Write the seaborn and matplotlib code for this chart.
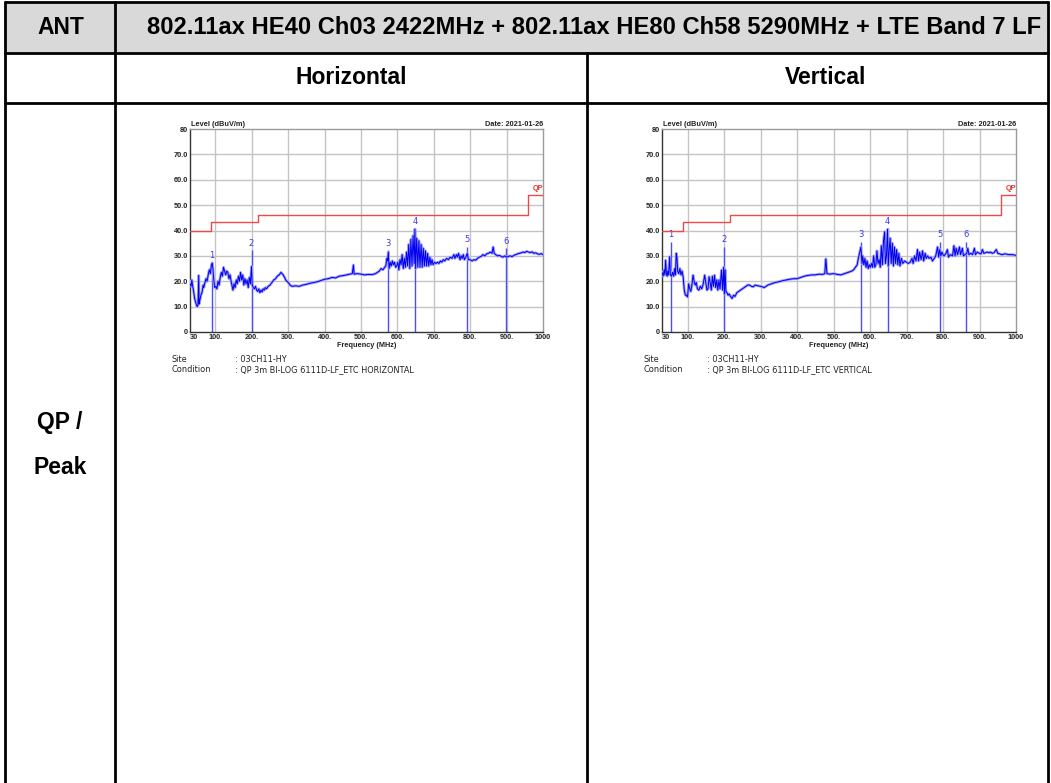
import matplotlib
matplotlib.use("Agg")
import matplotlib.pyplot as plt
import seaborn as sns
import pandas as pd
from matplotlib.lines import Line2D

sns.set_theme(style="white")
plt.rcParams['font.family'] = ['Liberation Sans', 'DejaVu Sans']

# ---------------- data ----------------
header_ant = "ANT"
header_title = "802.11ax HE40 Ch03 2422MHz + 802.11ax HE80 Ch58 5290MHz + LTE Band 7 LF"
col_titles = ["Horizontal", "Vertical"]
row_title = ["QP /", "Peak"]

x_ticks = [30, 100, 200, 300, 400, 500, 600, 700, 800, 900, 1000]
x_ticklabels = ["30", "100.", "200.", "300.", "400.", "500.", "600.", "700.", "800.", "900.", "1000"]
y_ticks = [0, 10, 20, 30, 40, 50, 60, 70, 80]
y_ticklabels = ["0", "10.0", "20.0", "30.0", "40.0", "50.0", "60.0", "70.0", "80"]

limit_freq = [30, 88, 216, 960, 1000]
limit_level = [40, 43.5, 46, 54, 54]

h_freq = [30, 33, 35, 37, 40, 43, 46, 48, 50, 52, 54, 55, 57, 60, 63, 66, 68, 71, 74, 77,
          80, 83, 86, 89, 91, 93, 95, 98, 101, 104, 107, 110, 113, 116, 119, 122, 125, 128, 131, 134,
          137, 140, 143, 146, 148, 151, 154, 157, 160, 163, 166, 169, 172, 175, 178, 181, 184, 187, 190, 193,
          196, 199, 201, 204, 207, 210, 213, 216, 219, 222, 225, 228, 231, 234, 237, 240, 245, 250, 255, 260,
          265, 270, 275, 280, 283, 286, 290, 293, 296, 300, 305, 310, 320, 330, 340, 350, 360, 370, 380, 390,
          400, 410, 420, 430, 440, 450, 460, 470, 476, 479, 481, 490, 500, 510, 520, 530, 540, 545, 550, 555,
          560, 565, 568, 571, 573, 575, 577, 580, 583, 586, 589, 592, 595, 598, 601, 604, 607, 610, 613, 616,
          619, 622, 625, 628, 631, 634, 637, 640, 643, 646, 648, 650, 653, 656, 659, 662, 665, 668, 671, 674,
          677, 680, 683, 686, 689, 692, 695, 698, 702, 706, 710, 714, 718, 722, 726, 730, 735, 740, 745, 750,
          755, 758, 762, 765, 768, 772, 775, 778, 781, 784, 788, 792, 795, 800, 805, 810, 815, 820, 825, 830,
          835, 840, 845, 850, 855, 860, 863, 866, 870, 875, 880, 885, 890, 895, 900, 905, 910, 915, 920, 925,
          930, 935, 940, 945, 950, 955, 960, 965, 970, 975, 980, 985, 990, 995, 1000]
h_level = [19.0, 18.0, 20.5, 18.5, 16.0, 13.0, 11.5, 10.5, 10.0, 10.8, 22.3, 11.0, 12.5, 14.5, 15.5, 18.5, 17.5, 19.5, 21.0, 20.0,
           22.5, 24.5, 23.0, 26.5, 27.2, 25.0, 21.0, 17.5, 18.0, 17.0, 20.0, 18.5, 21.5, 23.5, 22.0, 25.5, 24.0, 22.5, 24.0, 23.5,
           21.0, 22.5, 20.0, 18.0, 16.5, 19.0, 17.5, 20.5, 19.0, 22.0, 20.0, 23.5, 20.5, 22.5, 18.5, 21.0, 19.0, 20.5, 17.5, 21.5,
           19.0, 25.8, 18.5, 17.5, 17.0, 18.0, 16.5, 16.0, 17.0, 15.5, 16.5, 15.8, 17.0, 16.5, 17.5, 17.0, 18.0, 18.5, 19.5, 20.5,
           21.0, 22.0, 22.5, 23.5, 23.0, 22.5, 21.5, 20.5, 20.0, 19.5, 18.5, 18.0, 18.2, 18.0, 18.5, 18.8, 19.2, 19.5, 19.8, 20.3,
           20.8, 21.0, 21.5, 21.3, 22.0, 22.2, 22.5, 22.8, 23.0, 26.4, 22.8, 23.0, 22.8, 22.5, 22.7, 22.6, 23.0, 23.5, 24.0, 25.0,
           24.5, 25.5, 26.0, 29.0, 28.0, 31.5, 25.0, 27.5, 26.0, 28.0, 26.5, 27.5, 25.5, 26.0, 27.5, 24.5, 28.5, 26.5, 30.5, 25.0,
           29.0, 25.5, 31.5, 26.0, 34.5, 25.0, 36.5, 26.0, 38.0, 27.0, 40.5, 25.0, 37.0, 25.5, 36.0, 25.5, 34.5, 25.5, 33.0, 26.0,
           32.0, 26.0, 31.0, 26.0, 29.5, 26.5, 28.5, 26.5, 27.5, 27.0, 27.5, 27.0, 28.0, 27.5, 28.5, 28.0, 29.0, 28.5, 29.5, 29.0,
           30.5, 29.0, 30.5, 29.5, 31.0, 28.5, 30.0, 29.0, 30.5, 28.5, 29.5, 31.0, 28.5, 28.5, 28.0, 28.5, 28.3, 29.0, 29.5, 29.8,
           30.5, 30.0, 30.8, 31.0, 31.5, 31.0, 33.5, 31.0, 30.5, 30.0, 30.2, 29.8, 29.5, 30.0, 29.5, 29.8, 30.0, 29.7, 30.2, 30.5,
           30.8, 31.0, 31.2, 31.5, 31.3, 31.8, 31.5, 31.3, 31.6, 31.0, 31.2, 30.8, 30.6, 30.9, 30.5]

v_freq = [30, 33, 36, 38, 40, 42, 44, 46, 48, 51, 53, 56, 59, 62, 65, 67, 69, 71, 73, 76,
          79, 82, 85, 88, 91, 94, 97, 100, 103, 106, 109, 112, 115, 118, 121, 124, 127, 131, 135, 139,
          143, 147, 150, 153, 156, 159, 162, 165, 168, 171, 174, 177, 180, 183, 186, 189, 193, 196, 199, 201,
          203, 205, 208, 211, 214, 218, 222, 226, 230, 235, 240, 245, 250, 255, 260, 265, 270, 275, 280, 285,
          290, 300, 305, 310, 315, 320, 330, 340, 350, 360, 370, 380, 390, 400, 410, 420, 430, 440, 450, 460,
          470, 476, 479, 482, 490, 500, 510, 520, 530, 540, 550, 555, 560, 565, 568, 571, 575, 578, 580, 583,
          586, 589, 592, 595, 598, 601, 604, 607, 610, 613, 616, 619, 622, 625, 628, 631, 634, 637, 640, 642,
          645, 648, 650, 652, 655, 658, 661, 664, 667, 670, 673, 676, 679, 682, 686, 690, 695, 700, 705, 710,
          715, 718, 722, 726, 730, 733, 736, 740, 744, 747, 751, 754, 758, 762, 767, 771, 776, 780, 785, 788,
          791, 794, 797, 800, 803, 808, 812, 815, 820, 826, 830, 833, 836, 840, 845, 848, 853, 856, 860, 865,
          868, 871, 876, 881, 886, 889, 894, 899, 904, 908, 912, 917, 921, 926, 930, 935, 940, 946, 950, 955,
          962, 970, 980, 990, 1000]
v_level = [23.5, 22.0, 24.5, 22.5, 28.3, 23.0, 22.0, 24.0, 22.5, 29.7, 22.5, 22.0, 23.5, 22.0, 25.0, 22.5, 31.0, 29.5, 24.0, 23.0,
           25.0, 22.5, 24.0, 21.7, 16.5, 14.5, 14.5, 13.8, 19.0, 17.0, 16.0, 18.5, 22.4, 20.0, 18.5, 19.5, 17.0, 16.5, 18.0, 17.0,
           19.0, 22.4, 19.5, 16.5, 17.0, 21.8, 19.5, 16.5, 22.0, 18.0, 22.4, 17.5, 20.5, 16.5, 20.5, 17.0, 24.4, 16.5, 25.5, 15.0,
           24.5, 16.0, 15.5, 14.5, 15.0, 14.0, 13.2, 14.5, 14.0, 15.5, 16.0, 16.5, 17.0, 17.5, 18.0, 18.5, 18.5, 18.0, 17.8, 18.5,
           18.3, 18.0, 17.8, 17.5, 18.0, 18.5, 19.0, 19.5, 19.8, 20.2, 20.5, 20.8, 21.0, 21.0, 21.5, 22.0, 22.3, 22.5, 22.5, 22.8,
           22.7, 23.0, 28.8, 23.0, 22.8, 23.0, 22.7, 22.5, 23.0, 23.5, 24.0, 24.5, 25.5, 26.5, 29.0, 31.0, 33.5, 27.0, 30.0, 26.5,
           29.0, 25.5, 28.0, 25.0, 26.5, 25.5, 27.0, 25.5, 30.0, 25.5, 26.5, 32.0, 27.0, 28.5, 25.5, 34.0, 26.5, 36.0, 39.5, 27.0,
           30.0, 40.5, 26.0, 31.0, 37.0, 27.0, 35.0, 26.0, 33.5, 27.0, 32.5, 26.5, 31.0, 26.0, 29.0, 27.0, 28.0, 27.5, 27.0, 27.5,
           29.0, 27.0, 30.0, 28.0, 32.5, 28.0, 31.5, 28.5, 32.0, 28.0, 31.0, 29.0, 30.0, 29.0, 29.5, 28.0, 29.0, 30.0, 33.5, 29.5,
           32.5, 30.0, 31.5, 30.5, 30.0, 31.0, 32.5, 29.5, 30.5, 30.0, 34.0, 30.0, 33.0, 30.5, 33.5, 30.5, 33.0, 30.0, 30.5, 31.0,
           33.0, 30.5, 31.0, 30.5, 33.0, 30.5, 31.5, 31.0, 30.8, 32.5, 31.0, 31.3, 31.5, 31.2, 31.5, 31.0, 31.3, 32.5, 31.0, 30.8,
           30.5, 30.8, 30.5, 30.5, 30.2]

h_marker_freq = [91, 199, 575, 648, 791, 899]
h_marker_level = [27.5, 32.3, 32.3, 40.8, 33.6, 33.0]
v_marker_freq = [55, 200, 575.5, 648, 791.5, 863.5]
v_marker_level = [35.6, 33.6, 35.6, 40.8, 35.6, 35.6]
marker_ids = ["1", "2", "3", "4", "5", "6"]

site_text = ": 03CH11-HY"
cond_texts = [": QP 3m BI-LOG 6111D-LF_ETC HORIZONTAL", ": QP 3m BI-LOG 6111D-LF_ETC VERTICAL"]
date_text = "Date: 2021-01-26"

# ---------------- figure ----------------
W, H = 1051, 783
fig = plt.figure(figsize=(W / 100, H / 100), dpi=100)
fig.patch.set_facecolor("white")

# table background axes in pixel coordinates
bg = fig.add_axes([0, 0, 1, 1])
bg.set_xlim(0, W)
bg.set_ylim(H, 0)
bg.axis("off")

x_left, x_c1, x_c2, x_right = 5, 115, 587, 1048
y_top, y_r1, y_r2, y_bot = 2, 53, 103, 783
bg.fill_between([x_left, x_right], y_top, y_r1, color="#D9D9D9", zorder=0)
lw = 2.0
for y in (y_top, y_r1, y_r2):
    bg.add_line(Line2D([x_left, x_right], [y, y], color="black", lw=lw))
bg.add_line(Line2D([x_left, x_left], [y_top, y_bot], color="black", lw=lw))
bg.add_line(Line2D([x_right, x_right], [y_top, y_bot], color="black", lw=lw))
bg.add_line(Line2D([x_c1, x_c1], [y_top, y_bot], color="black", lw=lw))
bg.add_line(Line2D([x_c2, x_c2], [y_r1, y_bot], color="black", lw=lw))

tkw = dict(fontweight="bold", fontsize=16.5, color="black", ha="center", va="center")
bg.text((x_left + x_c1) / 2 + 1, 28, header_ant, **tkw)
bg.text((x_c1 + x_right) / 2 + 13, 28, header_title, **{**tkw, "fontsize": 17.1})
bg.text((x_c1 + x_c2) / 2, 78, col_titles[0], **tkw)
bg.text((x_c2 + x_right) / 2 + 8, 78, col_titles[1], **tkw)
bg.text(60, 422, row_title[0], **tkw)
bg.text(60, 468, row_title[1], **tkw)


def emi_panel(px_left, px_right, freq, level, mk_f, mk_l, cond):
    top, bottom = 129, 332
    ax = fig.add_axes([px_left / W, 1 - bottom / H, (px_right - px_left) / W, (bottom - top) / H])
    ax.set_facecolor("white")
    df = pd.DataFrame({"Frequency (MHz)": freq, "Level": level})
    lim = pd.DataFrame({"f": limit_freq, "l": limit_level})
    ax.set_xlim(30, 1000)
    ax.set_ylim(0, 80)
    ax.set_xticks(x_ticks)
    ax.set_xticklabels(x_ticklabels)
    ax.set_yticks(y_ticks)
    ax.set_yticklabels(y_ticklabels)
    for v in x_ticks[1:-1]:
        ax.axvline(v, color="#C4C4C4", lw=1.0, zorder=0)
    for v in y_ticks[1:-1]:
        ax.axhline(v, color="#C4C4C4", lw=1.0, zorder=0)
    ax.tick_params(length=0, pad=1.5, labelsize=5.3, colors="#222222")
    for t in ax.get_xticklabels() + ax.get_yticklabels():
        t.set_fontweight("bold")
    ax.get_xticklabels()[0].set_ha("left")
    for s in ("left", "bottom"):
        ax.spines[s].set_color("#333333")
        ax.spines[s].set_linewidth(1.0)
    for s in ("top", "right"):
        ax.spines[s].set_color("#9A9A9A")
        ax.spines[s].set_linewidth(1.0)
    ax.vlines(mk_f, 0, mk_l, color="#4B4BFF", lw=1.0, zorder=2)
    for f, l, n in zip(mk_f, mk_l, marker_ids):
        ax.text(f, l + 1.0, n, color="#3A3AEE", fontsize=6, ha="center", va="bottom",
                family="DejaVu Sans")
    sns.lineplot(data=df, x="Frequency (MHz)", y="Level", ax=ax, color="#A0A0FF", lw=2.0,
                 zorder=3, estimator=None, sort=False)
    sns.lineplot(data=df, x="Frequency (MHz)", y="Level", ax=ax, color="#0000EE", lw=0.7,
                 zorder=4, estimator=None, sort=False)
    sns.lineplot(data=lim, x="f", y="l", ax=ax, color="#F04848", lw=1.0, drawstyle="steps-post",
                 zorder=5, estimator=None)
    ax.text(1000, 55.3, "QP", color="#E83030", fontsize=5.3, fontweight="bold", ha="right", va="bottom")
    ax.set_xlabel("Frequency (MHz)", fontsize=5.3, fontweight="bold", labelpad=0.5, color="#222222")
    ax.set_ylabel("")
    ax.text(0.003, 1.005, "Level (dBuV/m)", transform=ax.transAxes, fontsize=5.3, fontweight="bold",
            ha="left", va="bottom", color="#222222")
    ax.text(1.0, 1.005, date_text, transform=ax.transAxes, fontsize=5.3, fontweight="bold",
            ha="right", va="bottom", color="#222222")
    # site / condition block
    fs = 5.9
    bg.text(px_left - 18, 359, "Site", fontsize=fs, family="DejaVu Sans", va="center", color="#222222")
    bg.text(px_left + 45, 359, site_text, fontsize=fs, family="DejaVu Sans", va="center", color="#222222")
    bg.text(px_left - 18, 370, "Condition", fontsize=fs, family="DejaVu Sans", va="center", color="#222222")
    bg.text(px_left + 45, 370, cond, fontsize=fs, family="DejaVu Sans", va="center", color="#222222")
    return ax


emi_panel(190, 543, h_freq, h_level, h_marker_freq, h_marker_level, cond_texts[0])
emi_panel(662, 1016, v_freq, v_level, v_marker_freq, v_marker_level, cond_texts[1])

fig.savefig("out.png", dpi=100)
